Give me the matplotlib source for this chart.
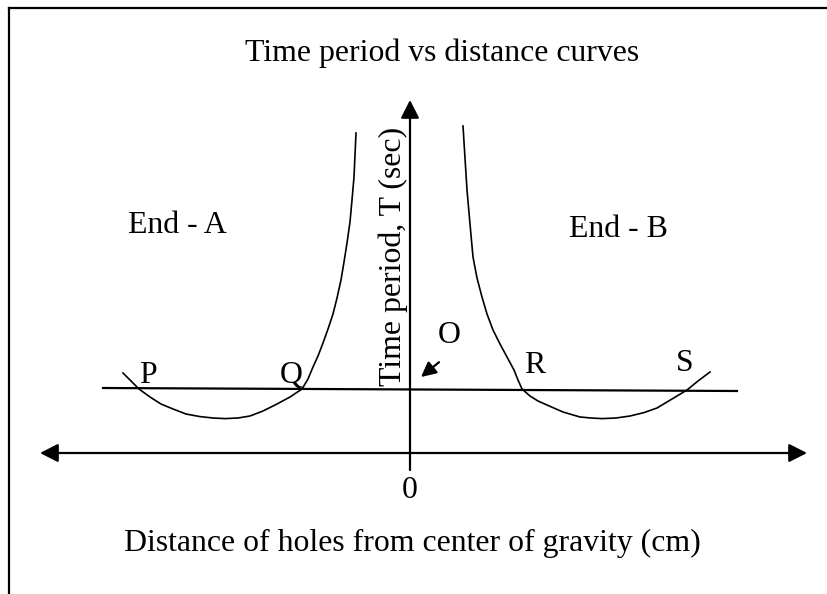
import matplotlib
matplotlib.use("Agg")
import matplotlib.pyplot as plt
from matplotlib.lines import Line2D

plt.rcParams['font.family'] = ['Liberation Serif', 'DejaVu Serif']

# Curve for End - A (distance in cm, time period in s)
end_a_x = [-28.7, -27.9, -27.1, -26.0, -24.9, -23.7, -22.4, -21.0, -19.7, -18.5,
           -17.2, -16.0, -14.7, -13.3, -12.0, -10.8, -10.2, -9.7, -9.2, -8.7,
           -8.2, -7.7, -7.3, -6.9, -6.6, -6.3, -6.0, -5.8, -5.6, -5.5, -5.4]
end_a_t = [2.0, 1.8, 1.6, 1.4, 1.225, 1.1, 0.975, 0.91, 0.875, 0.86,
           0.875, 0.925, 1.05, 1.225, 1.4, 1.6, 1.85, 2.15, 2.425, 2.75,
           3.1, 3.475, 3.875, 4.325, 4.775, 5.25, 5.775, 6.325, 6.9, 7.45, 8.0]

# Curve for End - B
end_b_x = [5.3, 5.5, 5.7, 6.0, 6.3, 6.7, 7.2, 7.7, 8.3, 9.0, 9.7, 10.4, 10.8,
           11.2, 12.0, 12.8, 13.7, 15.3, 17.0, 18.1, 19.2, 20.6, 22.0, 23.4,
           24.7, 26.2, 27.7, 28.8, 30.0]
end_b_t = [8.175, 7.375, 6.575, 5.725, 4.9, 4.375, 3.9, 3.475, 3.075, 2.725,
           2.4, 2.075, 1.825, 1.6, 1.425, 1.3, 1.2, 1.025, 0.9, 0.875, 0.86,
           0.875, 0.925, 1.01, 1.125, 1.35, 1.575, 1.8, 2.025]

# Reference line through P, Q, R, S
ref_x = [-30.7, 32.7]
ref_t = [1.625, 1.55]

# Axis extents
x_axis = [-37.0, 39.7]
y_axis = [-0.425, 8.825]

point_labels = ['P', 'Q', 'O', 'R', 'S']
point_x = [-26.2, -11.9, 3.9, 12.5, 27.5]
point_t = [1.75, 1.75, 2.75, 2.0, 2.05]

FS = 22.9
LW_AXIS = 1.6
LW_CURVE = 1.2

fig = plt.figure(figsize=(8.27, 5.94), dpi=100)
ax = fig.add_axes([0, 0, 1, 1])
ax.set_xlim(-41.0, 41.7)
ax.set_ylim(-3.525, 11.325)
ax.axis('off')

# Frame lines (top and left)
fig.add_artist(Line2D([9 / 827, 1.0], [1 - 8 / 594, 1 - 8 / 594],
                      transform=fig.transFigure, color='black', lw=1.6))
fig.add_artist(Line2D([9 / 827, 9 / 827], [0.0, 1 - 8 / 594],
                      transform=fig.transFigure, color='black', lw=1.6))

# Axes with arrow heads
ax.annotate('', xy=(x_axis[1], 0), xytext=(x_axis[0], 0),
            arrowprops=dict(arrowstyle='<|-|>,head_length=0.55,head_width=0.28',
                            mutation_scale=20, color='black', lw=LW_AXIS,
                            shrinkA=0, shrinkB=0))
ax.annotate('', xy=(0, y_axis[1]), xytext=(0, y_axis[0]),
            arrowprops=dict(arrowstyle='-|>,head_length=0.55,head_width=0.28',
                            mutation_scale=20, color='black', lw=LW_AXIS,
                            shrinkA=0, shrinkB=0))

# Curves and reference line
ax.plot(end_a_x, end_a_t, color='black', lw=LW_CURVE, solid_joinstyle='round')
ax.plot(end_b_x, end_b_t, color='black', lw=LW_CURVE, solid_joinstyle='round')
ax.plot(ref_x, ref_t, color='black', lw=LW_AXIS)

# Arrow pointing at O
ax.annotate('', xy=(1.1, 1.9), xytext=(2.9, 2.27),
            arrowprops=dict(arrowstyle='-|>,head_length=0.6,head_width=0.3',
                            mutation_scale=15, color='black', lw=1.6,
                            shrinkA=0, shrinkB=0))

# Texts
fig.text(442 / 827, 1 - 61 / 594, 'Time period vs distance curves',
         ha='center', va='baseline', fontsize=FS)
ax.text(-23.3, 5.5, 'End - A', ha='center', va='baseline', fontsize=FS)
ax.text(20.8, 5.4, 'End - B', ha='center', va='baseline', fontsize=FS)
for lab, px, pt in zip(point_labels, point_x, point_t):
    ax.text(px, pt, lab, ha='center', va='baseline', fontsize=FS)
ax.text(0, -1.125, '0', ha='center', va='baseline', fontsize=FS)
ax.text(0.2, -2.45, 'Distance of holes from center of gravity (cm)',
        ha='center', va='baseline', fontsize=FS)
ax.text(-0.9, 4.925, 'Time period, T (sec)', rotation=90,
        rotation_mode='anchor', ha='center', va='baseline', fontsize=FS)

fig.savefig('out.png', dpi=100)
